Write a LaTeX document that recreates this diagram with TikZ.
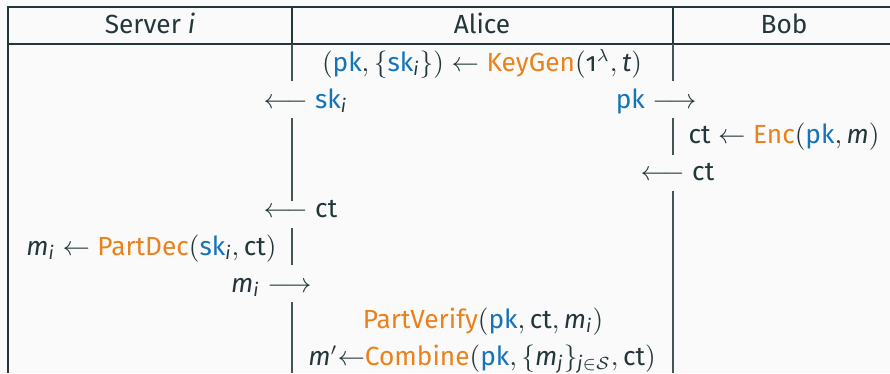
\documentclass[tikz,border=0pt]{standalone}
\usepackage{amsmath}
\usepackage{fontspec}
\setmainfont{Fira Sans}[Numbers=OldStyle]
\definecolor{fg}{HTML}{23373B}
\definecolor{bg}{HTML}{FAFAFA}
\definecolor{algo}{HTML}{EB811B}
\definecolor{keyc}{HTML}{1573B9}
\newcommand\Alg[1]{\text{\color{algo}#1}}
\newcommand\pk{\text{\color{keyc}pk}}
\newcommand\sk{\text{\color{keyc}sk}}
\newcommand\ct{\text{ct}}
\newcommand\vr[1]{\textit{#1}}
\begin{document}
\begin{tikzpicture}[x=.4pt,y=.4pt,every node/.style={inner sep=0pt,text=fg,font=\fontsize{10.5}{12.6}\selectfont}]
  \useasboundingbox (0,0) rectangle (890,-373); \fill[bg] (0,0) rectangle (890,-373);
  \draw[fg,line width=.6pt] (892,-7)--(8,-7)--(8,-373); \draw[fg,line width=.6pt] (8,-44)--(892,-44);
  \draw[fg,line width=.5pt] (292,-7)--(292,-44) (673,-7)--(673,-44);
  \draw[fg!85,line width=.45pt] (292,-44)--(292,-81) (292,-118)--(292,-201) (292,-228)--(292,-265) (292,-302)--(292,-373);
  \draw[fg!85,line width=.45pt] (673,-44)--(673,-81) (673,-118)--(673,-155) (673,-191)--(673,-373);
  \node[anchor=base] (hdS) at (150,-33) {Server \vr{i}}; \node[anchor=base] (hdA) at (482,-33) {Alice}; \node[anchor=base] (hdB) at (784,-33) {Bob};
  \node[anchor=base] (keygen) at (482,-71) {$(\pk,\{\sk_{\vr{i}}\})\leftarrow\Alg{KeyGen}(\text{1}^{\lambda},\vr{t})$};
  \node[anchor=base west] (sendsk) at (263,-108) {$\longleftarrow\sk_{\vr{i}}$};
  \node[anchor=base east] (sendpk) at (697,-108) {$\pk\longrightarrow$};
  \node[anchor=base west] (enc) at (688,-143) {$\ct\leftarrow\Alg{Enc}(\pk,\vr{m})$};
  \node[anchor=base west] (ctb) at (640,-180) {$\longleftarrow\ct$};
  \node[anchor=base west] (cta) at (263,-217) {$\longleftarrow\ct$};
  \node[anchor=base east] (partdec) at (277,-255) {$\vr{m}_{\vr{i}}\leftarrow\Alg{PartDec}(\sk_{\vr{i}},\ct)$};
  \node[anchor=base east] (sendm) at (312,-292) {$\vr{m}_{\vr{i}}\longrightarrow$};
  \node[anchor=base] (verify) at (483,-328) {$\Alg{PartVerify}(\pk,\ct,\vr{m}_{\vr{i}})$};
  \node[anchor=base] (combine) at (482,-365) {$\vr{m}'{\leftarrow}\Alg{Combine}(\pk,\{\vr{m}_{\vr{j}}\}_{\vr{j}\in\mathcal{S}},\ct)$};
\end{tikzpicture}
\end{document}
